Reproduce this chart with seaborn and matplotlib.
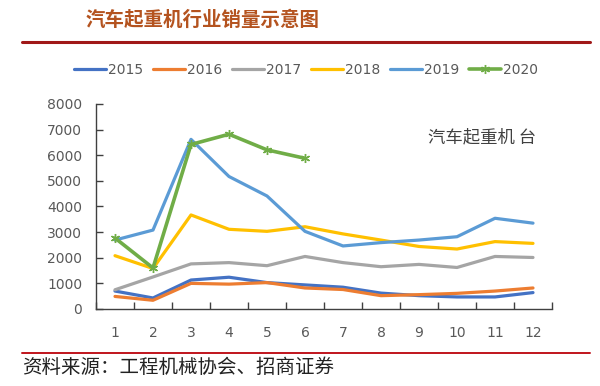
import matplotlib
matplotlib.use("Agg")
import matplotlib.pyplot as plt
import seaborn as sns
import pandas as pd
from matplotlib.lines import Line2D

months = list(range(1, 13))
y2015 = [700, 430, 1130, 1240, 1030, 940, 850, 620, 520, 470, 470, 640]
y2016 = [490, 340, 1000, 970, 1030, 820, 760, 520, 560, 610, 700, 820]
y2017 = [750, 1250, 1760, 1810, 1690, 2050, 1810, 1650, 1740, 1620, 2050, 2010]
y2018 = [2080, 1580, 3670, 3110, 3030, 3210, 2930, 2690, 2440, 2340, 2630, 2560]
y2019 = [2690, 3080, 6620, 5170, 4410, 3030, 2460, 2590, 2690, 2820, 3540, 3350]
y2020 = [2770, 1600, 6420, 6820, 6210, 5880]
series_names = ["2015", "2016", "2017", "2018", "2019", "2020"]
series_vals = [y2015, y2016, y2017, y2018, y2019, y2020]
colors = ["#4472C4", "#ED7D31", "#A5A5A5", "#FFC000", "#5B9BD5", "#70AD47"]
yticks = [0, 1000, 2000, 3000, 4000, 5000, 6000, 7000, 8000]

title = "汽车起重机行业销量示意图"
unit_text = "汽车起重机 台"
source = "资料来源：工程机械协会、招商证券"

sns.set_theme(style="white")
plt.rcParams['font.family'] = ['DejaVu Sans']
cjk = ['Noto Sans CJK SC', 'DejaVu Sans']

fig = plt.figure(figsize=(6, 3.86), dpi=100)
ax = fig.add_axes([0.16, 0.1995, 0.76, 0.5311])

for name, vals, c in zip(series_names, series_vals, colors):
    xs = months[:len(vals)]
    if name == "2020":
        sns.lineplot(x=xs, y=vals, ax=ax, color=c, linewidth=2.6, label=name,
                     marker=(6, 2, 0), markersize=6.5, markeredgecolor=c,
                     markeredgewidth=1.0)
    else:
        sns.lineplot(x=xs, y=vals, ax=ax, color=c, linewidth=2.3, label=name)

ax.set_xlim(0.5, 12.5)
ax.set_ylim(0, 8000)
ax.set_xticks(months)
ax.set_xticklabels([str(m) for m in months])
ax.set_xticks([m + 0.5 for m in range(0, 13)], minor=True)
ax.set_yticks(yticks)
ax.set_yticklabels([str(t) for t in yticks])
ax.tick_params(axis='x', which='major', length=0, pad=12, labelsize=10, labelcolor="#595959")
ax.tick_params(axis='x', which='minor', direction='in', length=5, width=1, color="#404040", bottom=True)
ax.tick_params(axis='y', which='major', direction='in', length=5, width=1, color="#404040",
               labelsize=10, labelcolor="#595959", left=True, pad=10)
for s in ["top", "right"]:
    ax.spines[s].set_visible(False)
for s in ["left", "bottom"]:
    ax.spines[s].set_color("#404040")
    ax.spines[s].set_linewidth(1.0)
ax.set_xlabel("")
ax.set_ylabel("")

leg = ax.legend(loc="center", bbox_to_anchor=(0.51, 0.819), bbox_transform=fig.transFigure,
                ncol=6, frameon=False, fontsize=10, handlelength=2.3, columnspacing=0.75,
                handletextpad=0.1)
for t in leg.get_texts():
    t.set_color("#595959")

fig.text(0.713, 0.645, unit_text, fontsize=12.5, color="#404040", family=cjk, va="center", ha="left")
fig.text(0.142, 0.948, title, fontsize=14, color="#B4531F", family=cjk, weight="bold",
         va="center", ha="left")
fig.add_artist(Line2D([0.037, 0.983], [1 - 42/386] * 2, color="#A01818", linewidth=2.2))
fig.add_artist(Line2D([0.037, 0.983], [1 - 353/386] * 2, color="#C0141C", linewidth=1.4))
fig.text(0.037, 0.047, source, fontsize=14, color="#222222", family=cjk, va="center", ha="left")

fig.savefig("out.png", dpi=100)
